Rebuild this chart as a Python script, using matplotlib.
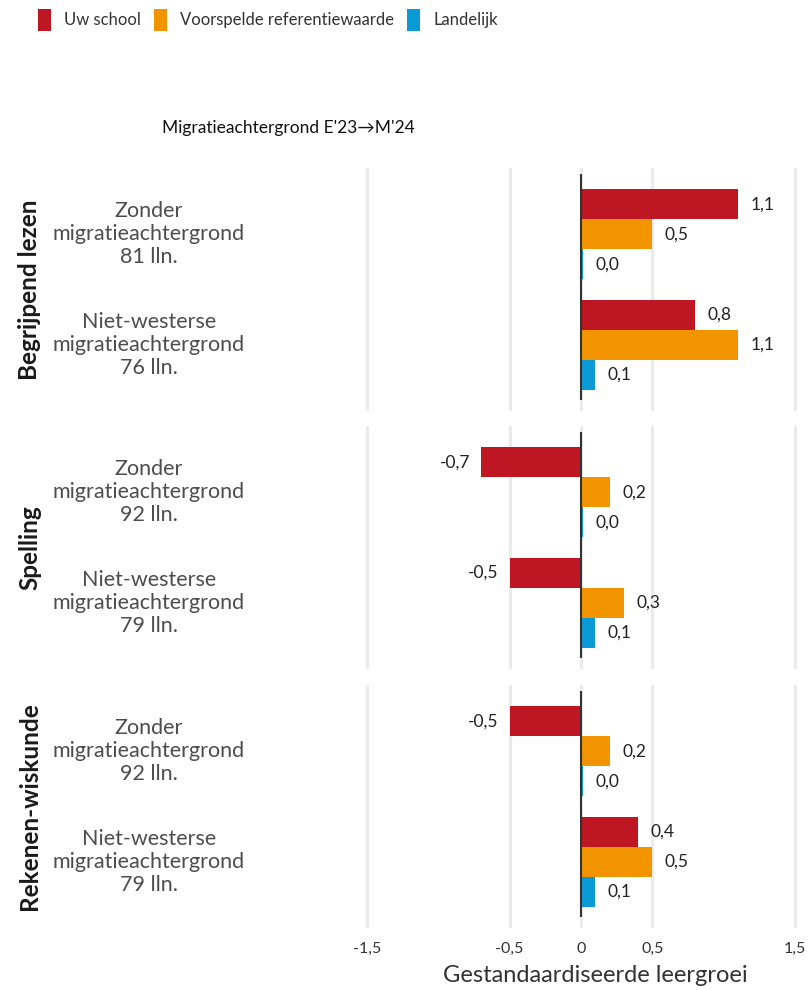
import matplotlib
matplotlib.use("Agg")
import matplotlib.pyplot as plt
from matplotlib.patches import Patch
from matplotlib.transforms import blended_transform_factory

# data
subjects = ["Begrijpend lezen", "Spelling", "Rekenen-wiskunde"]
groups = ["Zonder\nmigratieachtergrond", "Niet-westerse\nmigratieachtergrond"]
n_lln = [[81, 76], [92, 79], [92, 79]]
uw_school = [[1.1, 0.8], [-0.7, -0.5], [-0.5, 0.4]]
referentie = [[0.5, 1.1], [0.2, 0.3], [0.2, 0.5]]
landelijk = [[0.015, 0.1], [0.015, 0.1], [0.015, 0.1]]

series_names = ["Uw school", "Voorspelde referentiewaarde", "Landelijk"]
series_colors = ["#BE1622", "#F29400", "#0A9BD6"]
xticks = [-1.5, -0.5, 0, 0.5, 1.5]
xticklabels = ["-1,5", "-0,5", "0", "0,5", "1,5"]

plt.rcParams["font.family"] = ["Lato", "DejaVu Sans"]

W, H = 810, 990
fig = plt.figure(figsize=(W / 100, H / 100), dpi=100)

panel_tops = [168, 426, 685]
panel_h = 243
ax_left, ax_right = 340, 810
x0_px = 581
px_per_unit = 142.67
bar_h = 0.2727


def fmt(v):
    return "{:.1f}".format(v).replace(".", ",")


for i, subject in enumerate(subjects):
    top = panel_tops[i]
    ax = fig.add_axes([ax_left / W, 1 - (top + panel_h) / H,
                       (ax_right - ax_left) / W, panel_h / H])
    ax.set_xlim((ax_left - x0_px) / px_per_unit, (ax_right - x0_px) / px_per_unit)
    ax.set_ylim(1.6, -0.6)
    for s in ax.spines.values():
        s.set_visible(False)
    ax.set_xticks(xticks)
    ax.grid(axis="x", color="#EBEBEB", linewidth=2.2, zorder=0)
    ax.set_yticks([])
    ax.tick_params(axis="x", length=0, pad=10, labelsize=11.5, labelcolor="#333333")
    if i == len(subjects) - 1:
        ax.set_xticklabels(xticklabels)
    else:
        ax.set_xticklabels([])

    values = [uw_school[i], referentie[i], landelijk[i]]
    for k, (vals, col) in enumerate(zip(values, series_colors)):
        ys = [g + (k - 1) * bar_h for g in range(len(groups))]
        ax.barh(ys, vals, height=bar_h, color=col, zorder=2)
        for y, v in zip(ys, vals):
            off = 9 if v >= 0 else -8
            ax.annotate(fmt(v), (v, y), xytext=(off, 0), textcoords="offset points",
                        ha="left" if v >= 0 else "right", va="center",
                        fontsize=12.5, color="#222222")

    ax.vlines(0, -0.55, 1.5, color="#333333", linewidth=1.5, zorder=3)

    trans = blended_transform_factory(fig.transFigure, ax.transData)
    for g, label in enumerate(groups):
        ax.text(149 / W, g, "{}\n{} lln.".format(label, n_lln[i][g]), transform=trans,
                ha="center", va="center", fontsize=15.5, color="#4D4D4D",
                linespacing=1.2)

    fig.text(30 / W, 1 - (top + panel_h / 2) / H, subject, rotation=90,
             ha="center", va="center", fontsize=17.5, fontweight="bold", color="#1A1A1A")

fig.text(288 / W, 1 - 128 / H, "Migratieachtergrond E'23\u2192M'24",
         ha="center", va="center", fontsize=12.5, color="#111111")

fig.text(595 / W, 1 - 975 / H, "Gestandaardiseerde leergroei",
         ha="center", va="center", fontsize=17, color="#333333")

handles = [Patch(facecolor=c, edgecolor="none") for c in series_colors]
fig.legend(handles, series_names, loc="center", ncol=3,
           bbox_to_anchor=(268 / W, 1 - 20 / H), frameon=False,
           prop={"size": 12}, labelcolor="#333333",
           handlelength=0.75, handleheight=1.6,
           handletextpad=0.8, columnspacing=0.8)

fig.savefig("out.png", dpi=100)
